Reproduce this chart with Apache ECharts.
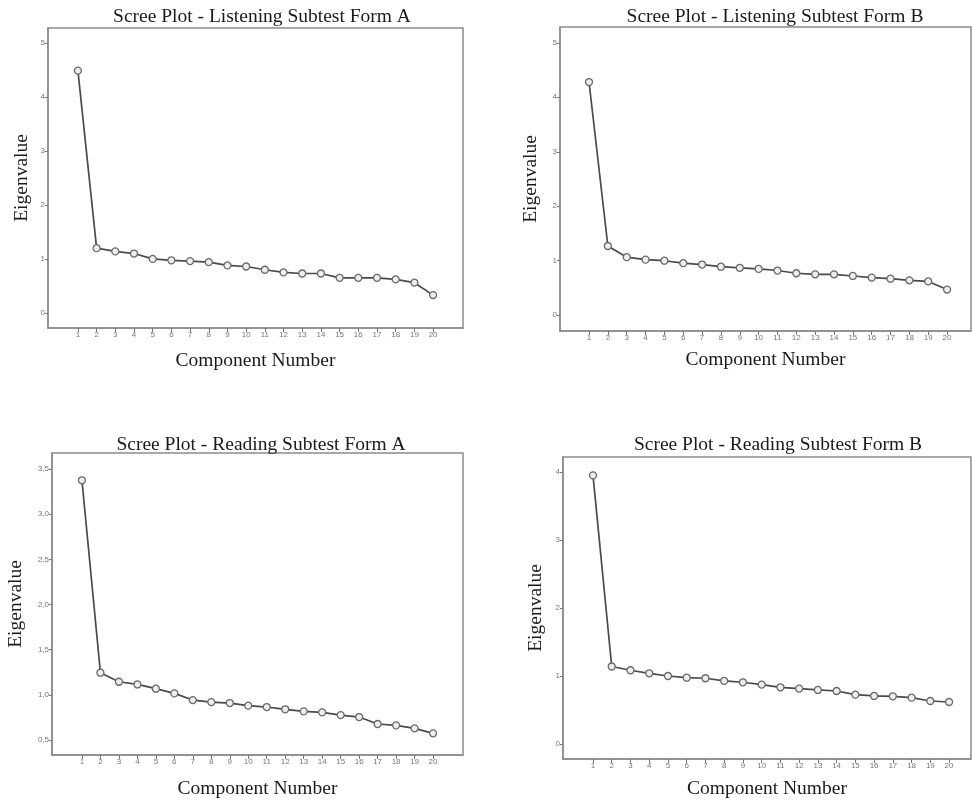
<!DOCTYPE html>
<html>
<head>
<meta charset="utf-8">
<script src="https://cdn.jsdelivr.net/npm/echarts@6/dist/echarts.min.js"></script>
<style>
html,body{margin:0;padding:0;background:#fff;}
#c{width:972px;height:802px;}
</style>
</head>
<body>
<div id="c"></div>
<script>
// ---- data ----
const components = [1,2,3,4,5,6,7,8,9,10,11,12,13,14,15,16,17,18,19,20];
const listeningA = [4.49,1.20,1.14,1.10,1.00,0.975,0.96,0.94,0.88,0.86,0.80,0.75,0.73,0.73,0.65,0.65,0.65,0.62,0.56,0.33];
const listeningB = [4.28,1.27,1.065,1.02,1.00,0.955,0.93,0.89,0.87,0.85,0.82,0.77,0.75,0.75,0.72,0.69,0.67,0.64,0.62,0.47];
const readingA = [3.375,1.245,1.145,1.115,1.068,1.016,0.942,0.92,0.909,0.88,0.865,0.84,0.817,0.806,0.776,0.754,0.677,0.662,0.629,0.574];
const readingB = [3.95,1.14,1.085,1.04,1.00,0.975,0.967,0.928,0.908,0.874,0.834,0.815,0.795,0.78,0.726,0.707,0.702,0.682,0.633,0.618];
const titles = ['Scree Plot - Listening Subtest Form A','Scree Plot - Listening Subtest Form B','Scree Plot - Reading Subtest Form A','Scree Plot - Reading Subtest Form B'];
const yTicksLA = [0,1,2,3,4,5];
const yTicksLB = [0,1,2,3,4,5];
const yTicksRA = [0.5,1.0,1.5,2.0,2.5,3.0,3.5];
const yTicksRB = [0,1,2,3,4];
const xName = 'Component Number';
const yName = 'Eigenvalue';

// ---- layout ----
const panels = [
  {data: listeningA, yTicks: yTicksLA, grid:{left:48,top:28,width:415,height:300}, x:[-0.6,21.6], y:[-0.28,5.28], comma:false, yGap:16, xGap:23, titleX:257, titleY:2},
  {data: listeningB, yTicks: yTicksLB, grid:{left:560,top:27,width:411,height:304}, x:[-0.54,21.27], y:[-0.29,5.29], comma:false, yGap:19, xGap:19, titleX:770, titleY:2},
  {data: readingA, yTicks: yTicksRA, grid:{left:52,top:453,width:411,height:302}, x:[-0.62,21.62], y:[0.334,3.677], comma:true, yGap:26, xGap:24, titleX:256, titleY:430},
  {data: readingB, yTicks: yTicksRB, grid:{left:563,top:457,width:408,height:302}, x:[-0.6,21.17], y:[-0.22,4.22], comma:false, yGap:17, xGap:20, titleX:773, titleY:430}
];

const serif = '"Liberation Serif","DejaVu Serif",serif';
const option = {
  animation:false,
  backgroundColor:'#ffffff',
  title: panels.map((p,i)=>({
    text: titles[i], left: p.titleX, top: p.titleY, textAlign:'center',
    textStyle:{fontFamily:serif,fontSize:19.5,fontWeight:'normal',color:'#1a1a1a'}
  })),
  grid: panels.map(p=>Object.assign({show:true,borderColor:'#8c8c8c',borderWidth:1.5,backgroundColor:'#fff'},p.grid)),
  xAxis: panels.map((p,i)=>({
    type:'value', gridIndex:i, min:p.x[0], max:p.x[1],
    name:xName, nameLocation:'middle', nameGap:p.xGap,
    nameTextStyle:{fontFamily:serif,fontSize:19.5,color:'#1a1a1a'},
    axisLine:{show:true,onZero:false,lineStyle:{color:'#8c8c8c',width:1.5}},
    axisTick:{show:true,length:4,inside:false,lineStyle:{color:'#777'},customValues:components},
    axisLabel:{fontSize:8,color:'#777',margin:3,customValues:components,fontFamily:'Arial, "Liberation Sans", sans-serif'},
    splitLine:{show:false}
  })),
  yAxis: panels.map((p,i)=>({
    type:'value', gridIndex:i, min:p.y[0], max:p.y[1],
    name:yName, nameLocation:'middle', nameGap:p.yGap,
    nameTextStyle:{fontFamily:serif,fontSize:19.5,color:'#1a1a1a'},
    axisLine:{show:true,onZero:false,lineStyle:{color:'#8c8c8c',width:1.5}},
    axisTick:{show:true,length:3,lineStyle:{color:'#777'},customValues:p.yTicks},
    axisLabel:{fontSize:8,color:'#777',margin:3,customValues:p.yTicks,fontFamily:'Arial, "Liberation Sans", sans-serif',
      formatter: p.comma ? (v=>v.toFixed(1).replace('.',',')) : (v=>String(v))},
    splitLine:{show:false}
  })),
  series: panels.map((p,i)=>({
    type:'line', xAxisIndex:i, yAxisIndex:i,
    data: components.map((c,j)=>[c,p.data[j]]),
    symbol:'circle', symbolSize:7, showSymbol:true,
    lineStyle:{color:'#4a4a4a',width:1.7},
    itemStyle:{color:'#eeeeee',borderColor:'#6a6a6a',borderWidth:1.3}
  }))
};
const chart = echarts.init(document.getElementById('c'),null,{renderer:'canvas'});
chart.setOption(option);
</script>
</body>
</html>
